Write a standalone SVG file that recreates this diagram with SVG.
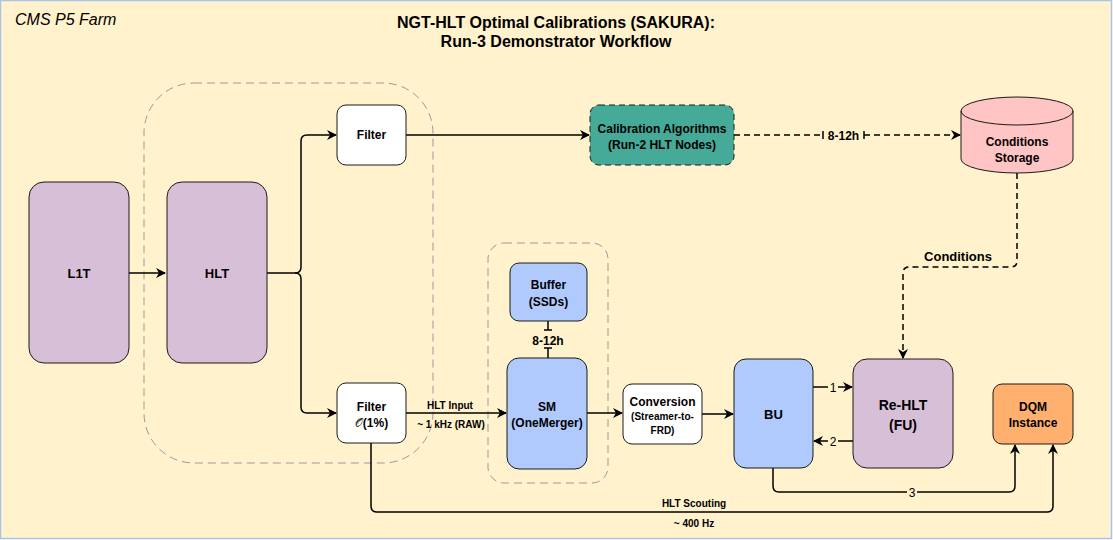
<svg xmlns="http://www.w3.org/2000/svg" width="1113" height="540" viewBox="0 0 1113 540">
<defs>
<style>
.n{stroke:#1a1a1a;stroke-width:1}
.t{font-family:"Liberation Sans",Arial,sans-serif;font-weight:bold;text-anchor:middle;fill:#000}
.r{font-family:"Liberation Sans",Arial,sans-serif;text-anchor:middle;fill:#000;font-size:12px}
.e{fill:none;stroke:#000;stroke-width:1.5}
.d{stroke-dasharray:6 4}
.g{fill:none;stroke:#9a9a9a;stroke-width:1;stroke-dasharray:8 5}
.bg{fill:#fff2cc}
</style>
<marker id="a" viewBox="0 0 10 10" refX="9" refY="5" markerWidth="7" markerHeight="7" orient="auto" markerUnits="userSpaceOnUse">
<path d="M0,0 L10,5 L0,10 L3,5 Z" fill="#000"/>
</marker>
<marker id="ab" viewBox="0 0 10 10" refX="9" refY="5" markerWidth="10" markerHeight="10" orient="auto" markerUnits="userSpaceOnUse">
<path d="M0,0 L10,5 L0,10 L3,5 Z" fill="#000"/>
</marker>
</defs>
<rect x="0.5" y="0.5" width="1111" height="538" fill="#fff2cc" stroke="#a9c4eb" stroke-width="1.5"/>
<text x="15" y="25" style="font-family:'Liberation Sans',Arial,sans-serif;font-style:italic;font-size:16px" fill="#000">CMS P5 Farm</text>
<text class="t" x="556" y="28" font-size="16">NGT-HLT Optimal Calibrations (SAKURA):</text>
<text class="t" x="556" y="47" font-size="16">Run-3 Demonstrator Workflow</text>

<g id="groups">
<rect class="g" x="144" y="83" width="289" height="380" rx="50"/>
<rect class="g" x="488" y="243" width="120" height="240" rx="16"/>
</g>

<g id="connectors">
<path class="e" d="M129,273 H165" marker-end="url(#ab)"/>
<path class="e" d="M267,273 H295 Q301,273 301,267 V141 Q301,135 307,135 H336" marker-end="url(#ab)"/>
<path class="e" d="M295,273 Q301,273 301,279 V407 Q301,413 307,413 H336" marker-end="url(#ab)"/>
<path class="e" d="M406,135 H589" marker-end="url(#ab)"/>
<path class="e d" d="M734,135 H823"/>
<path class="e" d="M823,131 V139"/>
<text class="t" x="843.5" y="139.5" font-size="12">8-12h</text>
<path class="e" d="M864,131 V139"/>
<path class="e d" d="M864,135 H960" marker-end="url(#ab)"/>
<path class="e d" d="M1017,173 V261 Q1017,267 1011,267 H909 Q903,267 903,273 V358" marker-end="url(#ab)"/>
<text class="t" x="958" y="260.5" font-size="13">Conditions</text>
<path class="e" d="M548,321 V330 M544,330 H552 M548,358 V348 M544,348 H552"/>
<text class="t" x="548" y="345" font-size="12">8-12h</text>
<path class="e" d="M406,413 H506" marker-end="url(#ab)"/>
<text class="t" x="450" y="408.5" font-size="10">HLT Input</text>
<text class="t" x="451" y="427.5" font-size="10">~ 1 kHz (RAW)</text>
<path class="e" d="M587,413 H622" marker-end="url(#ab)"/>
<path class="e" d="M702,414 H733" marker-end="url(#ab)"/>
<path class="e" d="M813,387 H852" marker-end="url(#ab)"/>
<rect class="bg" x="828" y="380" width="10" height="14"/>
<text class="r" x="833" y="391.5">1</text>
<path class="e" d="M853,441 H814" marker-end="url(#ab)"/>
<rect class="bg" x="828" y="434" width="10" height="14"/>
<text class="r" x="833" y="445.5">2</text>
<path class="e" d="M773,468 V486 Q773,492 779,492 H1009 Q1015,492 1015,486 V445" marker-end="url(#ab)"/>
<rect class="bg" x="907" y="485" width="10" height="14"/>
<text class="r" x="912" y="496.5">3</text>
<path class="e" d="M371,443 V506 Q371,512 377,512 H1047 Q1053,512 1053,506 V445" marker-end="url(#ab)"/>
<text class="t" x="694" y="506.5" font-size="10">HLT Scouting</text>
<text class="t" x="694" y="526.5" font-size="10">~ 400 Hz</text>
</g>

<g id="L1T">
<rect class="n" x="29" y="182" width="100" height="181" rx="15" fill="#d8bfd8"/>
<text class="t" x="79" y="278" font-size="13">L1T</text>
</g>
<g id="HLT">
<rect class="n" x="167" y="182" width="100" height="181" rx="15" fill="#d8bfd8"/>
<text class="t" x="217" y="278" font-size="13">HLT</text>
</g>
<g id="FilterTop">
<rect class="n" x="337" y="105" width="69" height="60" rx="9" fill="#fff"/>
<text class="t" x="371.5" y="139" font-size="12">Filter</text>
</g>
<g id="FilterBottom">
<rect class="n" x="337" y="383" width="69" height="60" rx="9" fill="#fff"/>
<text class="t" x="371.5" y="411" font-size="12">Filter</text>
<text class="t" x="371.5" y="427" font-size="12"><tspan font-family="'DejaVu Sans',serif" font-weight="normal" fill="#333">𝒪</tspan>(1%)</text>
</g>
<g id="Calibration">
<rect class="n" x="590" y="105" width="144" height="60" rx="9" fill="#45ab98" stroke-dasharray="6 4"/>
<text class="t" x="662" y="133" font-size="12">Calibration Algorithms</text>
<text class="t" x="662" y="148.5" font-size="12">(Run-2 HLT Nodes)</text>
</g>
<g id="ConditionsStorage">
<path class="n" d="M961,111 A56,14 0 0 1 1073,111 V159 A56,14 0 0 1 961,159 Z" fill="#ffc4c4"/>
<path class="n" d="M961,111 A56,14 0 0 0 1073,111" fill="none"/>
<text class="t" x="1017" y="146" font-size="12">Conditions</text>
<text class="t" x="1017" y="161.5" font-size="12">Storage</text>
</g>
<g id="Buffer">
<rect class="n" x="510" y="263" width="77" height="58" rx="9" fill="#b0cafd"/>
<text class="t" x="548.5" y="289" font-size="12">Buffer</text>
<text class="t" x="548.5" y="306" font-size="12">(SSDs)</text>
</g>
<g id="SM">
<rect class="n" x="507" y="358" width="80" height="111" rx="12" fill="#b0cafd"/>
<text class="t" x="547" y="411" font-size="12">SM</text>
<text class="t" x="547" y="427" font-size="12">(OneMerger)</text>
</g>
<g id="Conversion">
<rect class="n" x="623" y="384" width="79" height="60" rx="9" fill="#fff"/>
<text class="t" x="662.5" y="406" font-size="12">Conversion</text>
<text class="t" x="662.5" y="419.5" font-size="10">(Streamer-to-</text>
<text class="t" x="662.5" y="433.5" font-size="10">FRD)</text>
</g>
<g id="BU">
<rect class="n" x="734" y="359" width="79" height="109" rx="12" fill="#b0cafd"/>
<text class="t" x="773.5" y="418.5" font-size="13">BU</text>
</g>
<g id="ReHLT">
<rect class="n" x="853" y="359" width="100" height="109" rx="14" fill="#d8bfd8"/>
<text class="t" x="903" y="410" font-size="14">Re-HLT</text>
<text class="t" x="903" y="430" font-size="14">(FU)</text>
</g>
<g id="DQM">
<rect class="n" x="993" y="384" width="80" height="60" rx="9" fill="#ffb06e"/>
<text class="t" x="1033" y="411" font-size="12">DQM</text>
<text class="t" x="1033" y="427" font-size="12">Instance</text>
</g>
</svg>
